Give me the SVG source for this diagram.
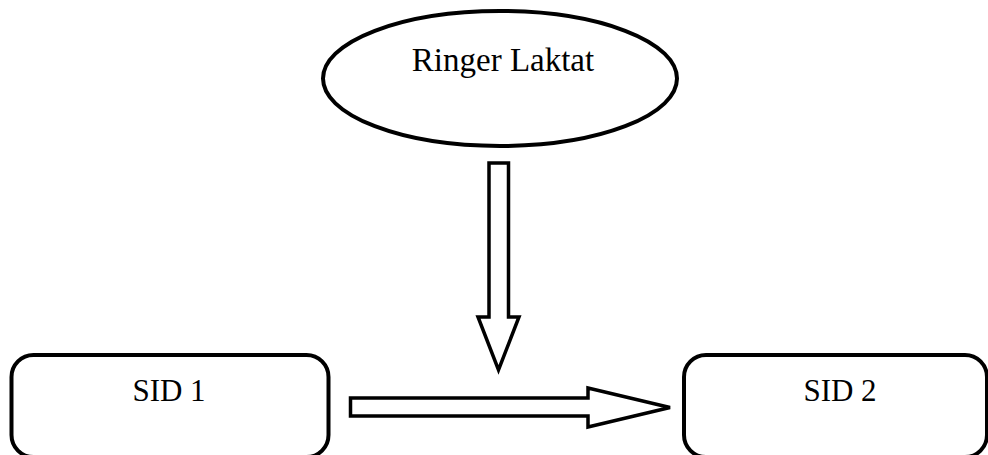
<svg xmlns="http://www.w3.org/2000/svg" width="988" height="455" viewBox="0 0 988 455">
<style>
.shape{fill:#fff;stroke:#000;stroke-width:4}
.arrow{fill:#fff;stroke:#000;stroke-width:3.5;stroke-linejoin:miter}
text{font-family:"Liberation Serif","Times New Roman",serif;font-size:31px;fill:#000;text-anchor:middle}
.big{font-size:33px}
</style>
<rect width="988" height="455" fill="#fff"/>
<g id="ringer">
<ellipse class="shape" cx="500" cy="78.5" rx="177" ry="67.5"/>
<text class="big" x="503" y="71">Ringer Laktat</text>
</g>
<g id="sid1">
<rect class="shape" x="11.5" y="355" width="317" height="102" rx="22"/>
<text x="169" y="401">SID 1</text>
</g>
<g id="sid2">
<rect class="shape" x="684" y="355" width="303" height="102" rx="22"/>
<text x="840" y="401">SID 2</text>
</g>
<g id="connectors">
<polygon class="arrow" points="489,163 508.5,163 508.5,317 519,317 498.5,370 478,317 489,317"/>
<polygon class="arrow" points="350.5,398 588,398 588,388 670,407.5 588,427 588,416 350.5,416"/>
</g>
</svg>
